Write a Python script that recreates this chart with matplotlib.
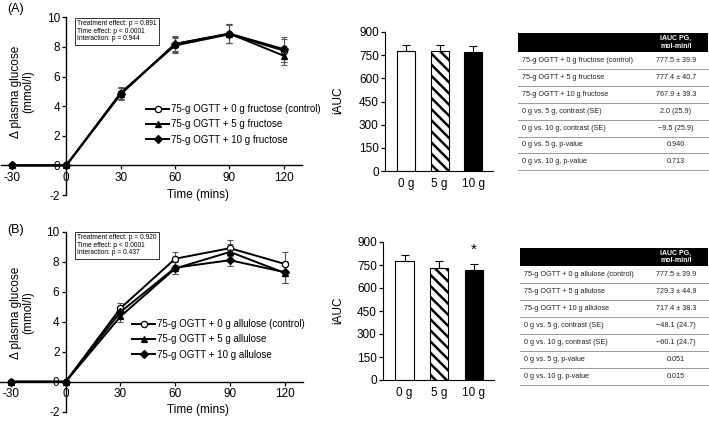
import numpy as np
import matplotlib
matplotlib.use("Agg")
import matplotlib.pyplot as plt
from matplotlib.lines import Line2D

plt.rcParams['font.family'] = ['Liberation Sans', 'DejaVu Sans']
plt.rcParams['axes.unicode_minus'] = False
plt.rcParams['hatch.linewidth'] = 1.8

W, H = 709, 421

# ---- data ----
times = [-30, 0, 30, 60, 90, 120]
time_ticks = ["-30", "0", "30", "60", "90", "120"]

# panel A: fructose
fru_ctrl = [0, 0, 4.9, 8.1, 8.85, 7.75]
fru_ctrl_err = [0, 0, 0.4, 0.5, 0.6, 0.8]
fru_5 = [0, 0, 4.8, 8.2, 8.9, 7.4]
fru_5_err = [0, 0, 0.4, 0.5, 0.65, 0.65]
fru_10 = [0, 0, 4.85, 8.2, 8.9, 7.85]
fru_10_err = [0, 0, 0.4, 0.55, 0.65, 0.85]
fru_labels = ["75-g OGTT + 0 g fructose (control)", "75-g OGTT + 5 g fructose",
              "75-g OGTT + 10 g fructose"]
fru_stats = "Treatment effect: p = 0.891\nTime effect: p < 0.0001\nInteraction: p = 0.944"

# panel B: allulose
all_ctrl = [0, 0, 4.9, 8.2, 8.9, 7.85]
all_ctrl_err = [0, 0, 0.35, 0.43, 0.55, 0.8]
all_5 = [0, 0, 4.35, 7.55, 8.65, 7.25]
all_5_err = [0, 0, 0.35, 0.4, 0.55, 0.7]
all_10 = [0, 0, 4.65, 7.6, 8.1, 7.3]
all_10_err = [0, 0, 0.35, 0.45, 0.4, 0.7]
all_labels = ["75-g OGTT + 0 g allulose (control)", "75-g OGTT + 5 g allulose",
              "75-g OGTT + 10 g allulose"]
all_stats = "Treatment effect: p = 0.920\nTime effect: p < 0.0001\nInteraction: p = 0.437"

doses = ["0 g", "5 g", "10 g"]
fru_auc = [777.5, 777.4, 767.9]
fru_auc_err = [39.9, 40.7, 39.3]
all_auc = [777.5, 729.3, 717.4]
all_auc_err = [39.9, 44.9, 38.3]

fru_rows = ["75-g OGTT + 0 g fructose (control)", "75-g OGTT + 5 g fructose",
            "75-g OGTT + 10 g fructose", "0 g vs. 5 g, contrast (SE)",
            "0 g vs. 10 g, contrast (SE)", "0 g vs. 5 g, p-value", "0 g vs. 10 g, p-value"]
fru_vals = ["777.5 ± 39.9", "777.4 ± 40.7", "767.9 ± 39.3", "2.0 (25.9)",
            "\u22129.5 (25.9)", "0.940", "0.713"]
all_rows = ["75-g OGTT + 0 g allulose (control)", "75-g OGTT + 5 g allulose",
            "75-g OGTT + 10 g allulose", "0 g vs. 5 g, contrast (SE)",
            "0 g vs. 10 g, contrast (SE)", "0 g vs. 5 g, p-value", "0 g vs. 10 g, p-value"]
all_vals = ["777.5 ± 39.9", "729.3 ± 44.9", "717.4 ± 38.3", "\u221248.1 (24.7)",
            "\u221260.1 (24.7)", "0.051", "0.015"]
header = "iAUC PG,\nmol-min/l"

fig = plt.figure(figsize=(W / 100, H / 100), dpi=100)


def px_axes(x0, y0, x1, y1):
    # axes from pixel box (top-left origin)
    return fig.add_axes([x0 / W, 1 - y1 / H, (x1 - x0) / W, (y1 - y0) / H])


def line_panel(box, series, errs, labels, stats, leg_xy, stats_xy, tag, tag_y, xlab_y):
    ax = px_axes(*box)
    markers = [dict(marker='o', mfc='white'), dict(marker='^', mfc='black'),
               dict(marker='D', mfc='black', ms=3.8)]
    for s, e in zip(series, errs):
        ax.errorbar(times, s, yerr=e, fmt='none', ecolor='#555555', elinewidth=0.8,
                    capsize=2.5, capthick=0.8, zorder=2)
    handles = []
    for s, m, lab in zip(series, markers, labels):
        kw = dict(ms=4.5, mec='black', mew=0.9)
        kw.update(m)
        h, = ax.plot(times, s, color='black', lw=1.4, zorder=3, label=lab, **kw)
        handles.append(h)
    ax.set_xlim(-36, 130)
    ax.set_ylim(-2, 10)
    ax.spines['left'].set_position(('data', 0))
    ax.spines['bottom'].set_position(('data', 0))
    ax.spines['right'].set_visible(False)
    ax.spines['top'].set_visible(False)
    for sp in ax.spines.values():
        sp.set_linewidth(1.0)
    ax.set_xticks(times)
    ax.set_xticklabels(time_ticks)
    ax.set_yticks(np.arange(-2, 11, 2))
    ax.tick_params(labelsize=8.5, length=3, width=0.9, pad=1.5)
    ax.patch.set_alpha(0)
    ax.legend(handles=handles, loc='upper left', frameon=False, fontsize=7,
              bbox_to_anchor=(leg_xy[0] / W, 1 - leg_xy[1] / H),
              bbox_transform=fig.transFigure, borderpad=0, borderaxespad=0,
              handlelength=2.4, handletextpad=0.2, labelspacing=0.55)
    fig.text(stats_xy[0] / W, 1 - stats_xy[1] / H, stats, fontsize=4.8, va='top', ha='left',
             linespacing=1.15,
             bbox=dict(boxstyle='square,pad=0.35', fc='white', ec='#333333', lw=0.7))
    fig.text(7 / W, 1 - tag_y / H, tag, fontsize=9, va='center', ha='left')
    fig.text(22 / W, 1 - (tag_y + 83) / H, "\u0394 plasma glucose\n(mmol/l)", fontsize=8.5,
             rotation=90, va='center', ha='center', linespacing=1.1)
    fig.text(198 / W, 1 - xlab_y / H, "Time (mins)", fontsize=8.5, va='center', ha='center')
    return ax


def bar_panel(box, vals, errs, star, ylab_y):
    ax = px_axes(*box)
    x = np.arange(len(doses))
    ax.bar(x, vals, width=0.53, color=['white', 'white', 'black'], edgecolor='black',
           linewidth=0.8, hatch=['', '\\\\\\', ''], zorder=2)
    ax.errorbar(x, vals, yerr=[np.zeros(len(vals)), errs], fmt='none', ecolor='black',
                elinewidth=0.8, capsize=3, capthick=0.8, zorder=3)
    ax.set_xlim(-0.62, 2.58)
    ax.set_ylim(0, 900)
    ax.set_yticks(np.arange(0, 901, 150))
    ax.set_xticks(x)
    ax.set_xticklabels(doses)
    ax.spines['right'].set_visible(False)
    ax.spines['top'].set_visible(False)
    ax.tick_params(axis='y', labelsize=8.5, length=3, width=0.9, pad=1.5)
    ax.tick_params(axis='x', labelsize=8.5, length=0, pad=5)
    if star:
        ax.text(2, vals[2] + errs[2] + 92, '*', ha='center', va='center', fontsize=11)
    fig.text(338 / W, 1 - ylab_y / H, "iAUC", fontsize=8.5, rotation=90, va='center', ha='center')
    return ax


def table(ov, x0, x1, top, hdr_h, row_h, rows, vals):
    ov.add_patch(plt.Rectangle((x0, top), x1 - x0, hdr_h, color='black', lw=0))
    vx = 676
    ov.text(vx, top + hdr_h / 2, header, color='white', fontsize=5, fontweight='bold',
            ha='center', va='center', linespacing=1.1)
    y = top + hdr_h
    for r, v in zip(rows, vals):
        ov.text(x0 + 4, y + row_h / 2, r, fontsize=5.2, ha='left', va='center', color='#222222')
        ov.text(vx, y + row_h / 2, v, fontsize=5.2, ha='center', va='center', color='#222222')
        y += row_h
        ov.plot([x0, x1], [y, y], color='#999999', lw=0.7)


line_panel((1, 17.3, 302, 195), [fru_ctrl, fru_5, fru_10],
           [fru_ctrl_err, fru_5_err, fru_10_err], fru_labels, fru_stats,
           (146, 104), (77, 20), "(A)", 9, 195)
line_panel((0, 231.7, 303, 411.7), [all_ctrl, all_5, all_10],
           [all_ctrl_err, all_5_err, all_10_err], all_labels, all_stats,
           (132, 319), (77, 234), "(B)", 230, 410)

bar_panel((385, 32, 493, 171), fru_auc, fru_auc_err, False, 100)
bar_panel((383, 242, 494, 380), all_auc, all_auc_err, True, 310)

ov = fig.add_axes([0, 0, 1, 1])
ov.set_xlim(0, W)
ov.set_ylim(H, 0)
ov.axis('off')
table(ov, 518, 708, 33, 19, 16.9, fru_rows, fru_vals)
table(ov, 520, 708, 248, 18, 17, all_rows, all_vals)

fig.savefig("out.png", dpi=100)
